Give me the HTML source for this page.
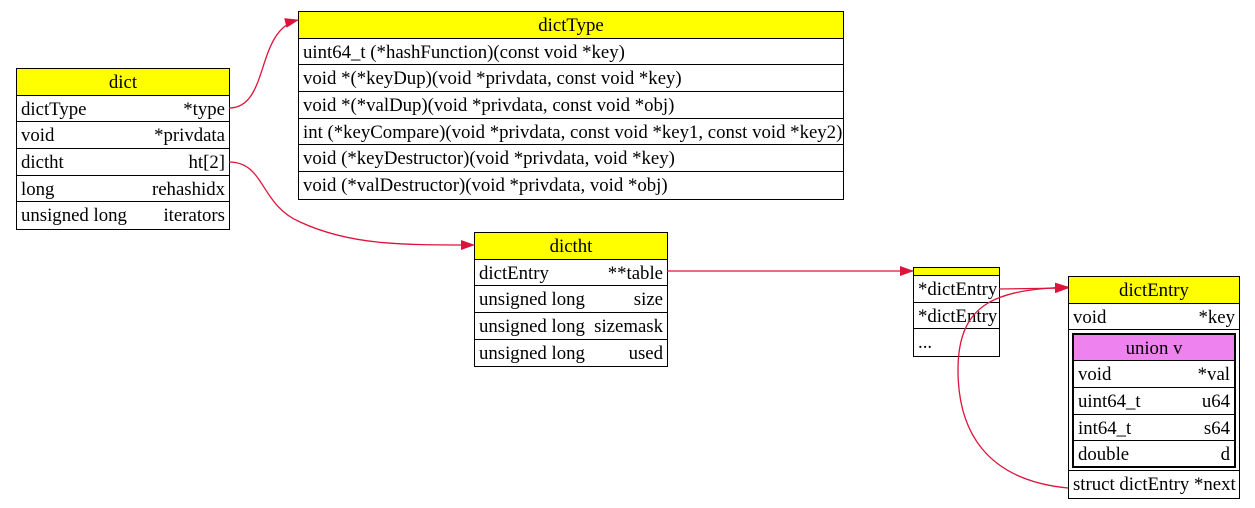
<!DOCTYPE html>
<html><head><meta charset="utf-8"><style>
body{margin:0;width:1255px;height:508px;background:#fff;position:relative;overflow:hidden;font-family:"Liberation Serif",serif;font-size:18.8px;color:#000}
.t{position:absolute;border:1px solid #000;box-sizing:border-box;background:#fff}
.h{background:#ff0;text-align:center;border-bottom:1px solid #000;box-sizing:border-box}
.r{display:flex;justify-content:space-between;padding:0 4px;border-bottom:1px solid #000;box-sizing:border-box;white-space:nowrap}
.r:last-child{border-bottom:none}
.h,.r{height:26.7px;line-height:28px;overflow:hidden}
svg{position:absolute;left:0;top:0;z-index:5}
</style></head><body>
<svg width="1255" height="508">
<defs><marker id="a" markerWidth="14" markerHeight="10" refX="13" refY="5" orient="auto" markerUnits="userSpaceOnUse"><path d="M0,0L14,5L0,10z" fill="#dc143c"/></marker></defs>
<g fill="none" stroke="#dc143c" stroke-width="1.3">
<path d="M229,108 C270,108 255,30 298,20" marker-end="url(#a)"/>
<path d="M229,162 C265,162 260,205 300,222 C350,245 400,245 474,245" marker-end="url(#a)"/>
<path d="M667,271 L913,271" marker-end="url(#a)"/>
<path d="M999,289 L1068,288" marker-end="url(#a)"/>
<path d="M1068,488 C985,480 958,430 958,370 C958,300 1000,290 1068,287" marker-end="url(#a)"/>
</g></svg>

<div class="t" style="left:16px;top:68px;width:214px">
<div class="h">dict</div>
<div class="r"><span>dictType</span><span>*type</span></div>
<div class="r"><span>void</span><span>*privdata</span></div>
<div class="r"><span>dictht</span><span>ht[2]</span></div>
<div class="r"><span>long</span><span>rehashidx</span></div>
<div class="r"><span>unsigned long</span><span>iterators</span></div>
</div>

<div class="t" style="left:298px;top:11px;width:546px">
<div class="h">dictType</div>
<div class="r"><span>uint64_t (*hashFunction)(const void *key)</span></div>
<div class="r"><span>void *(*keyDup)(void *privdata, const void *key)</span></div>
<div class="r"><span>void *(*valDup)(void *privdata, const void *obj)</span></div>
<div class="r"><span>int (*keyCompare)(void *privdata, const void *key1, const void *key2)</span></div>
<div class="r"><span>void (*keyDestructor)(void *privdata, void *key)</span></div>
<div class="r"><span>void (*valDestructor)(void *privdata, void *obj)</span></div>
</div>

<div class="t" style="left:474px;top:232px;width:194px">
<div class="h">dictht</div>
<div class="r"><span>dictEntry</span><span>**table</span></div>
<div class="r"><span>unsigned long</span><span>size</span></div>
<div class="r"><span>unsigned long</span><span>sizemask</span></div>
<div class="r"><span>unsigned long</span><span>used</span></div>
</div>

<div class="t" style="left:913px;top:267px;width:87px">
<div class="h" style="height:8px"></div>
<div class="r"><span>*dictEntry</span></div>
<div class="r"><span>*dictEntry</span></div>
<div class="r"><span>...</span></div>
</div>

<div class="t" style="left:1068px;top:276px;width:172px">
<div class="h">dictEntry</div>
<div class="r"><span>void</span><span>*key</span></div>
<div style="border-bottom:1px solid #000;padding:3px 3px;height:141px;box-sizing:border-box">
<div class="t" style="position:relative;width:100%;border-width:2px">
<div class="h" style="background:#ee82ee;height:26px">union v</div>
<div class="r"><span>void</span><span>*val</span></div>
<div class="r"><span>uint64_t</span><span>u64</span></div>
<div class="r"><span>int64_t</span><span>s64</span></div>
<div class="r" style="height:25px"><span>double</span><span>d</span></div>
</div></div>
<div class="r"><span>struct dictEntry *next</span></div>
</div>
</body></html>
